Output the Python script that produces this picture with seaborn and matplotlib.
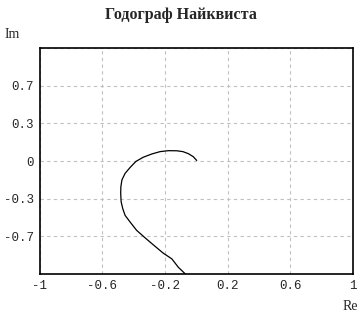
import matplotlib
matplotlib.use("Agg")
import matplotlib.pyplot as plt
import seaborn as sns
import pandas as pd

re_vals = [0.003, -0.019, -0.050, -0.085, -0.124, -0.178, -0.231, -0.284, -0.338, -0.385,
           -0.422, -0.454, -0.474, -0.481, -0.482, -0.479, -0.469, -0.454, -0.422, -0.380,
           -0.327, -0.274, -0.210, -0.156, -0.114, -0.065]
im_vals = [0.005, 0.040, 0.068, 0.087, 0.095, 0.096, 0.087, 0.065, 0.035, -0.004,
           -0.060, -0.115, -0.175, -0.240, -0.302, -0.380, -0.442, -0.505, -0.567, -0.645,
           -0.713, -0.779, -0.857, -0.909, -0.988, -1.056]
x_ticks = [-1, -0.6, -0.2, 0.2, 0.6, 1]
x_tick_labels = ["-1", "-0.6", "-0.2", "0.2", "0.6", "1"]
y_ticks = [1.05, 0.7, 0.35, 0, -0.35, -0.7, -1.05]
y_tick_labels = ["", "0.7", "0.3", "0", "-0.3", "-0.7", ""]

sns.set_style("white")
df = pd.DataFrame({"Re": re_vals, "Im": im_vals})

fig = plt.figure(figsize=(3.63, 3.21), dpi=100)
ax = fig.add_axes([39.5 / 363, 47 / 321, (353 - 39.5) / 363, (274 - 48) / 321])
sns.lineplot(data=df, x="Re", y="Im", sort=False, estimator=None, color="black",
             linewidth=0.9, ax=ax)
ax.set_xlim(-1, 1)
ax.set_ylim(-1.05, 1.05)
ax.set_xticks(x_ticks)
ax.set_xticklabels(x_tick_labels)
ax.set_yticks(y_ticks)
ax.set_yticklabels(y_tick_labels)
ax.tick_params(length=0, labelsize=9, pad=4)
for lab in ax.get_xticklabels() + ax.get_yticklabels():
    lab.set_fontfamily("Liberation Mono")
ax.grid(True, linestyle=(0, (3, 3)), color="#c0c0c0", linewidth=0.8)
for s in ax.spines.values():
    s.set_color("black")
    s.set_linewidth(1.2)
ax.set_xlabel("")
ax.set_ylabel("")
fig.text(181 / 363, 1 - 15 / 321, "Годограф Найквиста", ha="center", va="center",
         fontsize=11.5, fontweight="bold", family="Liberation Serif")
fig.text(5 / 363, 1 - 34 / 321, "Im", ha="left", va="center", fontsize=10,
         family="Liberation Serif")
fig.text(358 / 363, 1 - 306 / 321, "Re", ha="right", va="center", fontsize=10,
         family="Liberation Serif")
fig.savefig("out.png", dpi=100, facecolor="white")
